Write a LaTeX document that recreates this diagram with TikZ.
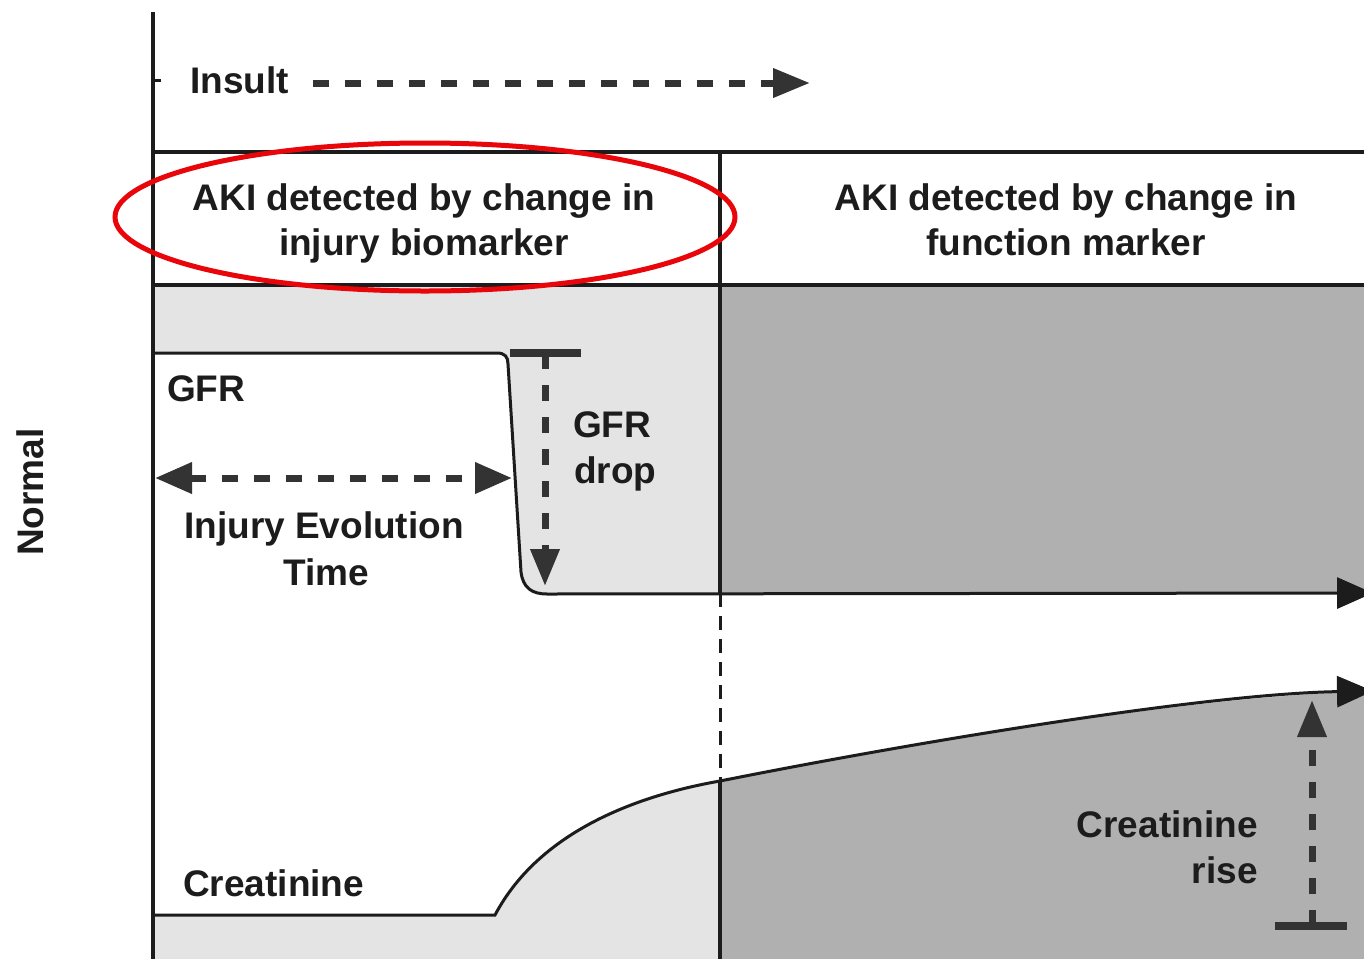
\documentclass[tikz,border=0pt]{standalone}
\usepackage{fontspec}
\setmainfont{Liberation Sans}
\usetikzlibrary{arrows.meta}
\definecolor{lightg}{HTML}{E4E4E4}
\definecolor{darkg}{HTML}{B0B0B0}
\definecolor{ink}{HTML}{1C1C1C}
\definecolor{arr}{HTML}{333333}
\definecolor{ringred}{HTML}{E8060A}
\begin{document}
\begin{tikzpicture}[x=1pt,y=-1pt,
  lbl/.style={font=\fontsize{37}{45}\selectfont\bfseries, text=ink, inner sep=0pt},
  frameline/.style={draw=ink, line width=3.5pt},
  curveline/.style={draw=ink, line width=3pt},
  curvearrow/.style={curveline, -{Triangle[length=36pt,width=31pt]}},
  dasharrow/.style={draw=arr, line width=7pt, dash pattern=on 16pt off 16pt,
     -{Triangle[length=37pt,width=28pt]}},
  dashboth/.style={draw=arr, line width=7pt, dash pattern=on 16pt off 16pt,
     {Triangle[length=37pt,width=30pt]}-{Triangle[length=37pt,width=30pt]}},
  tbar/.style={draw=arr, line width=8pt},
  divdash/.style={draw=ink, line width=3pt, dash pattern=on 14pt off 9pt},
  ring/.style={draw=ringred, line width=5pt}
]
\useasboundingbox (0,0) rectangle (1364,959);
% background fills
\fill[lightg] (153,285) rectangle (720,959);
\fill[darkg] (720,285) rectangle (1364,959);
\fill[white] (153,353) -- (497,353) .. controls (505,353) and (508,357) .. (508,364)
  -- (521,572) .. controls (523,588) and (532,594) .. (547,594) -- (1380,593)
  -- (1380,691) .. controls (1200,694) and (900,745) .. (720,781)
  .. controls (640,795) and (540,830) .. (495,915) -- (153,915) -- cycle;

% frame lines
\coordinate (axTop) at (153,12);
\coordinate (axBot) at (153,959);
\coordinate (tickA) at (153,80);
\coordinate (tickB) at (161,80);
\coordinate (h1L) at (153,152);
\coordinate (h1R) at (1364,152);
\coordinate (h2L) at (153,285);
\coordinate (h2R) at (1364,285);
\coordinate (vTop) at (720,152);
\coordinate (vGfr) at (720,593);
\coordinate (vCre) at (720,781);
\coordinate (vBot) at (720,959);
\draw[frameline] (h1L) -- (h1R);
\draw[frameline] (h2L) -- (h2R);
\draw[frameline] (vTop) -- (vGfr);
\draw[divdash] (vGfr) -- (vCre);
\draw[frameline] (vCre) -- (vBot);
\draw[frameline] (axTop) -- (axBot);
\draw[curveline] (tickA) -- (tickB);

% GFR curve
\coordinate (gfrStart) at (153,353);
\coordinate (gfrEnd) at (1373,593);
\draw[curvearrow] (gfrStart) -- (497,353) .. controls (505,353) and (508,357) .. (508,364)
  -- (521,572) .. controls (523,588) and (532,594) .. (547,594) -- (gfrEnd);

% Creatinine curve
\coordinate (creStart) at (153,915);
\coordinate (creEnd) at (1373,691);
\draw[curvearrow] (creStart) -- (495,915) .. controls (540,830) and (640,795) .. (720,781)
  .. controls (900,745) and (1200,694) .. (creEnd);

% Insult arrow
\node[lbl, anchor=base west] (insult) at (190,93) {Insult};
\coordinate (insS) at (313,83);
\coordinate (insE) at (810,83);
\draw[dasharrow] (insS) -- (insE);

% headers
\node[lbl, anchor=base] (h1a) at (424,210) {AKI detected by change in};
\node[lbl, anchor=base] (h1b) at (424,255) {injury biomarker};
\node[lbl, anchor=base] (h2a) at (1066,210) {AKI detected by change in};
\node[lbl, anchor=base] (h2b) at (1066,255) {function marker};

% labels
\node[lbl, anchor=base west] (gfr) at (167,401) {GFR};
\node[lbl, anchor=base] (iev1) at (324,538) {Injury Evolution};
\node[lbl, anchor=base] (iev2) at (326,585) {Time};
\node[lbl, anchor=base west] (gd1) at (573,437) {GFR};
\node[lbl, anchor=base west] (gd2) at (574,483) {drop};
\node[lbl, anchor=base west] (cre) at (183,896) {Creatinine};
\node[lbl, anchor=base east] (cr1) at (1258,837) {Creatinine};
\node[lbl, anchor=base east] (cr2) at (1258,883) {rise};
\node[lbl, anchor=base, rotate=90] (normal) at (43,492) {Normal};

% injury evolution time arrow
\coordinate (ievL) at (155,478);
\coordinate (ievR) at (512,478);
\draw[dashboth] (ievL) -- (ievR);

% GFR drop arrow
\coordinate (gdBarL) at (510,353);
\coordinate (gdBarR) at (581,353);
\coordinate (gdT) at (545,353);
\coordinate (gdB) at (545,586);
\draw[dasharrow] (gdT) -- (gdB);
\draw[tbar] (gdBarL) -- (gdBarR);

% Creatinine rise arrow
\coordinate (crBarL) at (1275,926);
\coordinate (crBarR) at (1347,926);
\coordinate (crB) at (1312,926);
\coordinate (crT) at (1312,700);
\draw[dasharrow] (crB) -- (crT);
\draw[tbar] (crBarL) -- (crBarR);

% red ellipse
\draw[ring] (425,217) ellipse [x radius=310, y radius=74];
\end{tikzpicture}
\end{document}
